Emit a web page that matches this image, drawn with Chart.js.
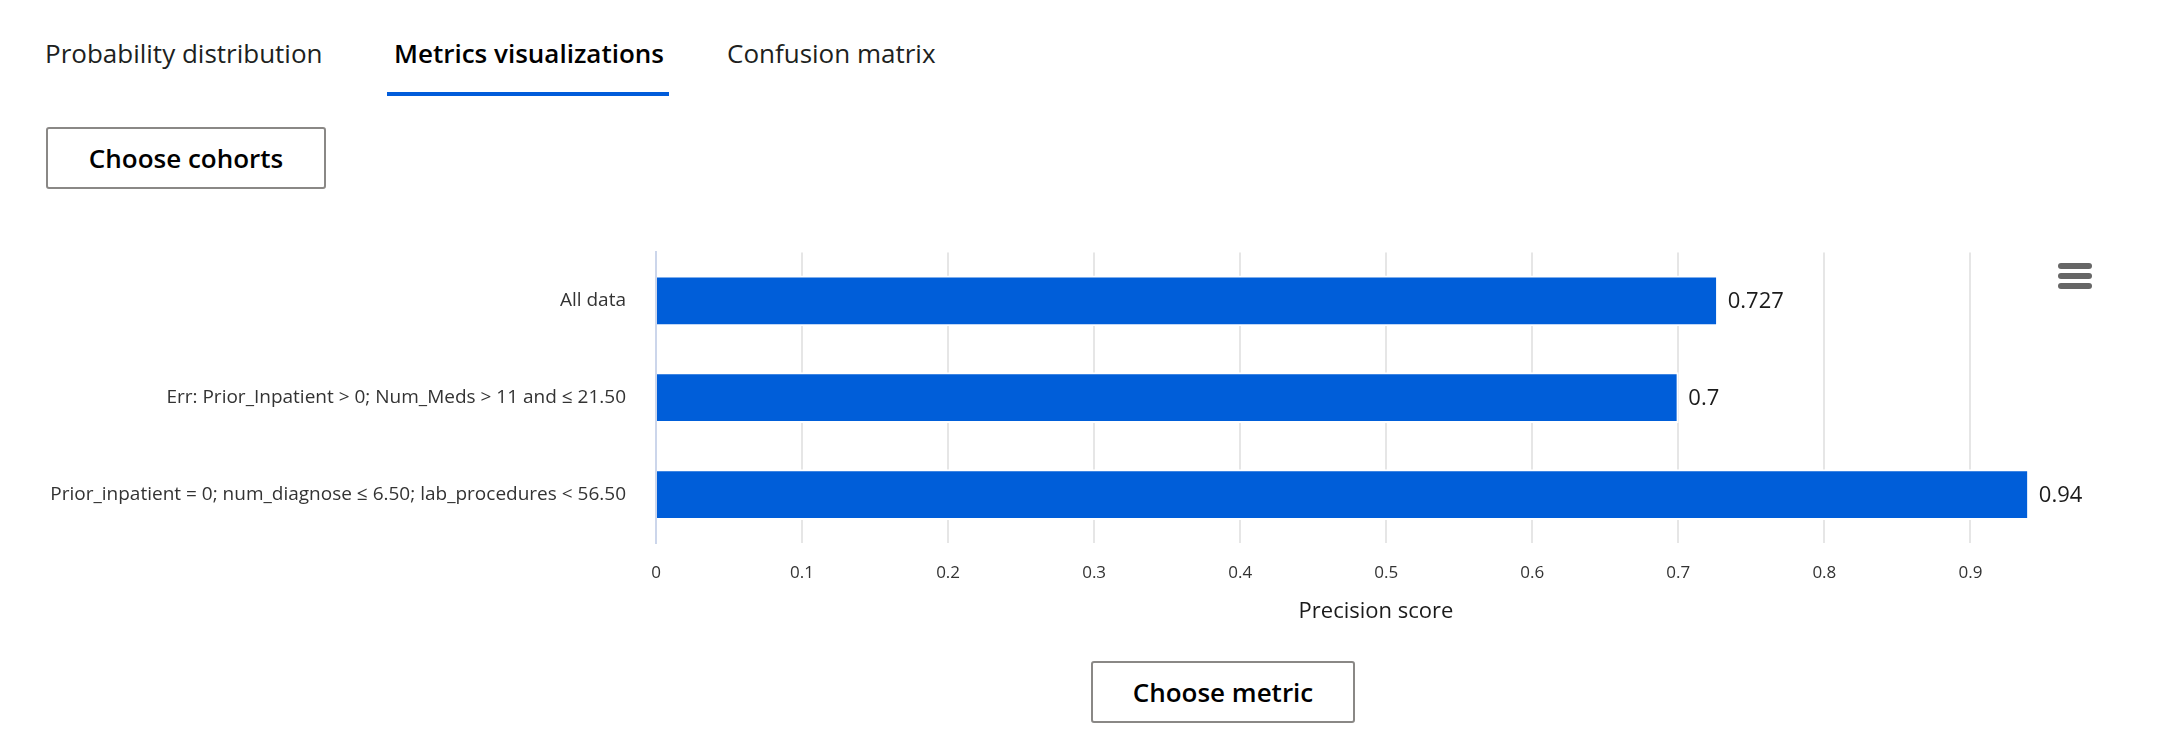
<!DOCTYPE html>
<html>
<head>
<meta charset="utf-8">
<title>Metrics visualizations</title>
<script src="https://cdn.jsdelivr.net/npm/chart.js"></script>
<style>
  html, body { margin: 0; padding: 0; background: #fff; }
  body { width: 2169px; height: 751px; position: relative; overflow: hidden; font-family: "Open Sans", "Noto Sans", sans-serif; color: #000; }
  .tab { position: absolute; top: 35px; height: 36px; line-height: 36px; font-size: 26px; white-space: nowrap; color: #201f1e; }
  .tab.active { font-weight: 600; color: #000; }
  .underline { position: absolute; left: 387px; top: 92px; width: 282px; height: 4px; background: #015cda; }
  .btn { position: absolute; box-sizing: border-box; border: 2px solid #8a8886; border-radius: 3px; background: #fff;
         font-size: 26px; font-weight: 600; display: flex; align-items: center; justify-content: center; white-space: nowrap; }
  .menu { position: absolute; left: 2058px; width: 34px; height: 6px; border-radius: 3px; background: #666; }
  #chartWrap { position: absolute; left: 0; top: 211px; width: 2169px; height: 414px; }
</style>
</head>
<body>
  <div class="tab" style="left:45px">Probability distribution</div>
  <div class="tab active" style="left:394px">Metrics visualizations</div>
  <div class="tab" style="left:727px">Confusion matrix</div>
  <div class="underline"></div>

  <div class="btn" style="left:46px; top:127px; width:280px; height:62px">Choose cohorts</div>

  <div id="chartWrap"><canvas id="metricsChart"></canvas></div>

  <div class="menu" style="top:263px"></div>
  <div class="menu" style="top:273px"></div>
  <div class="menu" style="top:283px"></div>

  <div class="btn" style="left:1091px; top:661px; width:264px; height:62px">Choose metric</div>

<script>
// cohorts shown on the category axis
const cohorts = [
    'All data',
    'Err: Prior_Inpatient > 0; Num_Meds > 11 and \u2264 21.50',
    'Prior_inpatient = 0; num_diagnose \u2264 6.50; lab_procedures < 56.50'
];
// precision score per cohort
const precisionScores = [0.727, 0.7, 0.94];
// value axis ticks
const scoreTicks = [0, 0.1, 0.2, 0.3, 0.4, 0.5, 0.6, 0.7, 0.8, 0.9];
const axisTitle = 'Precision score';

const barColor = '#005ed9';

// draws the value next to each bar end
const valueLabels = {
    id: 'valueLabels',
    afterDatasetsDraw(chart) {
        const ctx = chart.ctx;
        const meta = chart.getDatasetMeta(0);
        ctx.save();
        ctx.font = '22px "Open Sans"';
        ctx.fillStyle = '#1b1b1b';
        ctx.textAlign = 'left';
        ctx.textBaseline = 'middle';
        meta.data.forEach((bar, i) => {
            ctx.fillText(String(chart.data.datasets[0].data[i]), bar.x + 10, bar.y + 1);
        });
        ctx.restore();
    }
};

document.addEventListener('DOMContentLoaded', function() {
    Chart.defaults.font.family = '"Open Sans", "Noto Sans", sans-serif';
    Chart.defaults.color = '#333';

    const canvas = document.getElementById('metricsChart');
    new Chart(canvas.getContext('2d'), {
        type: 'bar',
        data: {
            labels: cohorts,
            datasets: [{
                label: axisTitle,
                data: precisionScores,
                backgroundColor: barColor,
                borderColor: '#fff',
                borderWidth: 2,
                barThickness: 50
            }]
        },
        options: {
            indexAxis: 'y',
            responsive: true,
            maintainAspectRatio: false,
            animation: false,
            layout: { padding: { top: 12, right: 73, left: 0, bottom: 0 } },
            plugins: {
                legend: { display: false },
                tooltip: { enabled: false }
            },
            scales: {
                y: {
                    type: 'category',
                    grid: { display: false, drawTicks: false },
                    border: { display: true, color: '#ccd6eb', width: 2 },
                    ticks: { padding: 30, color: '#333', font: { size: 19 } },
                    afterFit(scale) { scale.width = 656; }
                },
                x: {
                    min: 0,
                    max: 0.986,
                    grid: { color: '#e6e6e6', lineWidth: 2, drawTicks: false },
                    border: { display: false },
                    afterBuildTicks(scale) {
                        scale.ticks = scoreTicks.map(v => ({ value: v }));
                    },
                    ticks: {
                        padding: 20,
                        color: '#333',
                        font: { size: 17 },
                        callback: v => String(Math.round(v * 10) / 10)
                    },
                    title: {
                        display: true,
                        text: axisTitle,
                        color: '#1b1b1b',
                        font: { size: 22 },
                        padding: { top: 17, bottom: 0 }
                    },
                    afterFit(scale) { scale.height = 82; }
                }
            }
        },
        plugins: [valueLabels]
    });
});
</script>
</body>
</html>
